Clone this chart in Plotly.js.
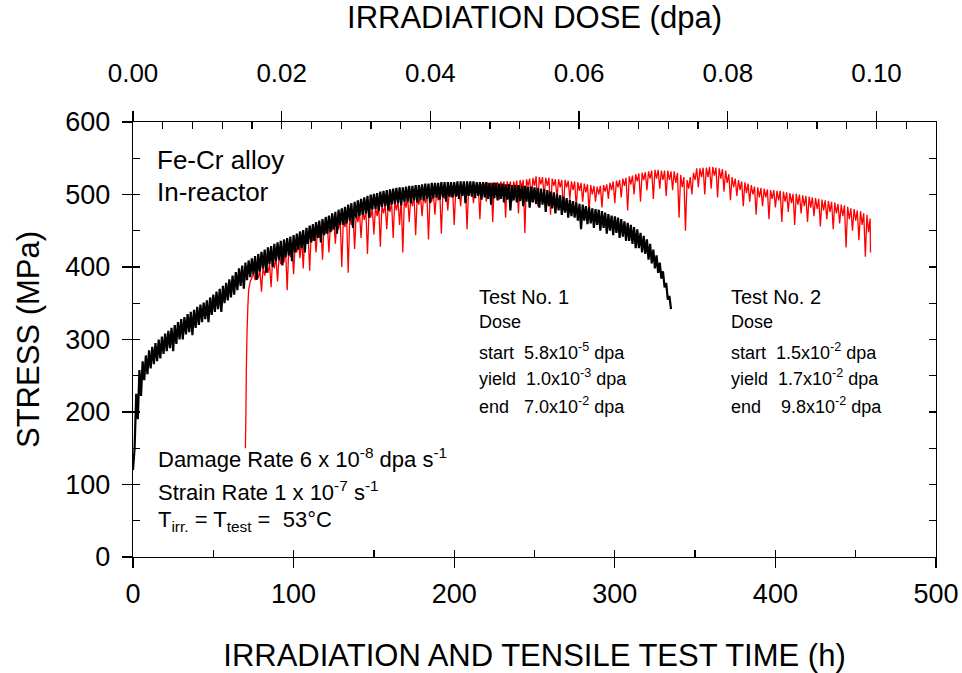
<!DOCTYPE html>
<html><head><meta charset="utf-8">
<script src="https://cdn.plot.ly/plotly-3.0.1.min.js"></script>
<style>html,body{margin:0;padding:0;background:#fff}#chart{width:962px;height:673px}</style>
</head><body><div id="chart"></div>
<script>
// Test No. 1 (black): noisy stress record, time (h) / stress (MPa)
const test1Time = [0,1,2,3,4,5,6,7,8,9,10,11,12,13,14,15,16,17,18,19,20,21,22,23,24,25,26,27,28,29,30,31,32,33,34,35,36,37,38,39,40,41,42,43,44,45,46,47,48,49,50,51,52,53,54,55,56,57,58,59,60,61,62,63,64,65,66,67,68,69,70,71,72,73,74,75,76,77,78,79,80,81,82,83,84,85,86,87,88,89,90,91,92,93,94,95,96,97,98,99,100,101,102,103,104,105,106,107,108,109,110,111,112,113,114,115,116,117,118,119,120,121,122,123,124,125,126,127,128,129,130,131,132,133,134,135,136,137,138,139,140,141,142,143,144,145,146,147,148,149,150,151,152,153,154,155,156,157,158,159,160,161,162,163,164,165,166,167,168,169,170,171,172,173,174,175,176,177,178,179,180,181,182,183,184,185,186,187,188,189,190,191,192,193,194,195,196,197,198,199,200,201,202,203,204,205,206,207,208,209,210,211,212,213,214,215,216,217,218,219,220,221,222,223,224,225,226,227,228,229,230,231,232,233,234,235,236,237,238,239,240,241,242,243,244,245,246,247,248,249,250,251,252,253,254,255,256,257,258,259,260,261,262,263,264,265,266,267,268,269,270,271,272,273,274,275,276,277,278,279,280,281,282,283,284,285,286,287,288,289,290,291,292,293,294,295,296,297,298,299,300,301,302,303,304,305,306,307,308,309,310,311,312,313,314,315,316,317,318,319,320,321,322,323,324,325,326,327,328,329,330,331,332,333,334,335];
const test1Stress = [120,150,225,190,258,222,270,244,278,252,285,260,290,266,295,270,300,274,304,280,308,284,312,288,316,284,320,294,324,300,328,300,331,307,335,310,338,306,341,316,345,320,348,324,351,328,354,324,358,334,362,338,366,342,370,338,374,350,378,354,383,358,388,362,393,368,398,374,402,370,406,382,409,386,412,390,415,382,418,394,421,398,424,392,427,404,429,400,432,408,434,410,436,402,438,414,440,416,442,408,444,420,446,424,449,426,451,420,454,432,457,434,459,436,462,440,464,434,466,444,469,446,471,448,474,452,476,446,479,458,481,458,483,460,486,464,488,454,490,468,492,470,494,472,496,474,498,468,500,479,501,480,502,477,504,483,505,484,506,478,507,486,508,487,509,488,510,485,510,490,511,490,512,488,512,492,513,489,513,493,514,492,515,494,515,488,516,495,516,496,516,493,517,496,517,490,517,497,517,496,517,497,518,494,518,498,518,488,518,498,518,497,518,495,517,498,517,493,517,496,517,494,516,486,516,495,516,492,515,494,515,489,514,493,514,478,513,492,513,489,513,491,512,484,512,490,511,482,511,489,510,487,509,482,508,486,507,476,506,484,504,481,503,474,501,478,499,472,497,475,495,468,493,470,491,468,489,464,487,452,486,464,484,459,483,460,481,454,480,458,479,450,477,454,475,446,473,450,471,444,470,447,468,440,466,442,463,436,461,436,458,432,455,426,452,426,447,420,443,418,438,410,432,405,424,398,416,392,406,384,394,372,378,355,360,342];

// Test No. 2 (red)
const test2Time = [70,70.3,70.6,71,71.5,72,73,74,75,76,77,78,79,80,81,82,83,84,85,86,87,88,89,90,91,92,93,94,95,96,97,98,99,100,101,102,103,104,105,106,107,108,109,110,111,112,113,114,115,116,117,118,119,120,121,122,123,124,125,126,127,128,129,130,131,132,133,134,135,136,137,138,139,140,141,142,143,144,145,146,147,148,149,150,151,152,153,154,155,156,157,158,159,160,161,162,163,164,165,166,167,168,169,170,171,172,173,174,175,176,177,178,179,180,181,182,183,184,185,186,187,188,189,190,191,192,193,194,195,196,197,198,199,200,201,202,203,204,205,206,207,208,209,210,211,212,213,214,215,216,217,218,219,220,221,222,223,224,225,226,227,228,229,230,231,232,233,234,235,236,237,238,239,240,241,242,243,244,245,246,247,248,249,250,251,252,253,254,255,256,257,258,259,260,261,262,263,264,265,266,267,268,269,270,271,272,273,274,275,276,277,278,279,280,281,282,283,284,285,286,287,288,289,290,291,292,293,294,295,296,297,298,299,300,301,302,303,304,305,306,307,308,309,310,311,312,313,314,315,316,317,318,319,320,321,322,323,324,325,326,327,328,329,330,331,332,333,334,335,336,337,338,339,340,341,342,343,344,345,346,347,348,349,350,351,352,353,354,355,356,357,358,359,360,361,362,363,364,365,366,367,368,369,370,371,372,373,374,375,376,377,378,379,380,381,382,383,384,385,386,387,388,389,390,391,392,393,394,395,396,397,398,399,400,401,402,403,404,405,406,407,408,409,410,411,412,413,414,415,416,417,418,419,420,421,422,423,424,425,426,427,428,429,430,431,432,433,434,435,436,437,438,439,440,441,442,443,444,445,446,447,448,449,450,451,452,453,454,455,456,457,458,459,459.2];
const test2Stress = [150,200,262,310,345,368,380,385,392,382,394,384,397,366,400,388,402,392,404,372,414,398,414,380,417,404,419,406,425,368,426,414,430,390,432,420,436,412,440,398,444,432,447,395,448,436,450,420,455,440,456,410,459,446,460,420,462,450,463,432,464,452,467,400,468,455,470,392,471,458,472,425,474,462,476,440,477,465,478,418,479,468,481,445,483,470,484,428,485,474,486,452,488,476,490,440,491,478,492,458,494,420,495,482,497,462,497,484,498,444,498,486,499,470,500,488,500,438,501,490,502,472,503,492,504,446,504,494,505,478,506,496,507,458,508,498,508,484,509,500,510,452,511,502,512,488,513,504,513,466,514,506,515,490,516,506,516,462,517,508,517,492,518,506,518,468,518,508,518,490,518,508,519,474,520,510,520,447,521,512,522,490,523,512,525,484,524,514,524,496,523,512,523,472,522,512,521,494,521,510,520,478,520,510,519,494,518,506,518,482,517,505,516,490,515,503,514,476,513,500,512,490,511,500,512,482,513,504,514,494,516,506,518,488,519,510,520,496,522,512,523,478,525,514,526,500,528,518,529,490,530,520,531,506,532,522,533,494,534,522,534,508,533,520,533,498,533,520,532,506,532,516,530,468,527,510,524,450,520,508,524,500,530,520,536,510,536,524,537,500,537,524,538,508,538,526,537,496,536,522,535,504,533,516,528,492,524,510,522,498,520,506,518,484,517,502,515,490,513,500,511,472,510,496,509,484,508,496,507,466,506,494,506,482,505,492,505,462,504,490,503,476,502,488,501,458,501,486,500,474,499,484,498,462,497,482,496,470,495,480,494,456,493,478,492,466,491,476,490,452,489,474,487,460,486,470,485,427,483,466,481,450,480,464,478,437,477,458,474,414,472,448,467,420];

// Axis tick values
const timeTicks = [0,100,200,300,400,500];
const doseTicks = [0.00,0.02,0.04,0.06,0.08,0.10];
const stressTicks = [0,100,200,300,400,500,600];

const nb = '\u00a0';
const axBase = {showgrid:false, zeroline:false, linecolor:'#000', linewidth:1.3, tickcolor:'#000', tickwidth:1.3};

const traces = [
  {name:'Test No. 2', x: test2Time, y: test2Stress, type:'scatter', mode:'lines', line:{color:'#ff0000', width:1.3, simplify:false}, hoverinfo:'skip', showlegend:false},
  {name:'Test No. 1', x: test1Time, y: test1Stress, type:'scatter', mode:'lines', line:{color:'#000000', width:2.2, simplify:false}, hoverinfo:'skip', showlegend:false},
  {x: [], y: [], xaxis:'x2', yaxis:'y', showlegend:false},
  {x: [], y: [], xaxis:'x3', yaxis:'y', showlegend:false},
  {x: [], y: [], xaxis:'x4', yaxis:'y', showlegend:false},
  {x: [], y: [], xaxis:'x', yaxis:'y2', showlegend:false},
  {x: [], y: [], xaxis:'x', yaxis:'y3', showlegend:false}
];

const annFont = {family:'Liberation Sans, Arial, sans-serif', color:'#000'};
function ann(text, x, y, size){
  return {text:text, x:x, y:y, xref:'x', yref:'y', xanchor:'left', yanchor:'middle', showarrow:false, font:Object.assign({size:size}, annFont)};
}

const layout = {
  width:962, height:673,
  paper_bgcolor:'#fff', plot_bgcolor:'#fff',
  font:{family:'Liberation Sans, Arial, sans-serif', color:'#000'},
  margin:{l:133, r:26, t:122, b:116},
  showlegend:false,
  xaxis: Object.assign({}, axBase, {range:[0,500], tickvals:timeTicks, ticks:'outside', ticklen:10, showline:true,
    tickfont:{size:27}, ticklabelstandoff:2,
    title:{text:'IRRADIATION AND TENSILE TEST TIME (h)', font:{size:31}, standoff:36}}),
  xaxis2: Object.assign({}, axBase, {overlaying:'x', anchor:'y', side:'bottom', range:[0,500], dtick:50, tick0:0, ticks:'inside', ticklen:7, showticklabels:false, showline:false}),
  xaxis3: Object.assign({}, axBase, {overlaying:'x', anchor:'y', side:'top', range:[0,0.108], tickvals:doseTicks, tickformat:'.2f', ticks:'outside', ticklen:10, showline:true,
    tickfont:{size:26}, ticklabelstandoff:18,
    title:{text:'IRRADIATION DOSE (dpa)', font:{size:31}, standoff:22}}),
  xaxis4: Object.assign({}, axBase, {overlaying:'x', anchor:'y', side:'top', range:[0,0.108], dtick:0.004, tick0:0, ticks:'inside', ticklen:7, showticklabels:false, showline:false}),
  yaxis: Object.assign({}, axBase, {range:[0,600], tickvals:stressTicks, ticks:'outside', ticklen:10, showline:true,
    tickfont:{size:27}, ticklabelstandoff:6,
    title:{text:'STRESS (MPa)', font:{size:31}, standoff:16}}),
  yaxis2: Object.assign({}, axBase, {overlaying:'y', anchor:'x', side:'left', range:[0,600], dtick:50, tick0:0, ticks:'inside', ticklen:7, showticklabels:false, showline:false}),
  yaxis3: Object.assign({}, axBase, {overlaying:'y', anchor:'x', side:'right', range:[0,600], dtick:50, tick0:0, ticks:'inside', ticklen:7, showticklabels:false, showline:true}),
  annotations: [
    ann('Fe-Cr alloy', 13.7, 548, 26),
    ann('In-reactor', 13.7, 503, 26),
    ann('Test No. 1', 214.5, 359, 20),
    ann('Dose', 214.5, 324, 18),
    ann('start'+nb+nb+'5.8x10<sup>-5</sup> dpa', 214.5, 284, 18),
    ann('yield'+nb+nb+'1.0x10<sup>-3</sup> dpa', 214.5, 247, 18),
    ann('end'+nb+nb+nb+'7.0x10<sup>-2</sup> dpa', 214.5, 209, 18),
    ann('Test No. 2', 371, 359, 20),
    ann('Dose', 371, 324, 18),
    ann('start'+nb+nb+'1.5x10<sup>-2</sup> dpa', 371, 284, 18),
    ann('yield'+nb+nb+'1.7x10<sup>-2</sup> dpa', 371, 247, 18),
    ann('end'+nb+nb+nb+nb+'9.8x10<sup>-2</sup> dpa', 371, 209, 18),
    ann('Damage Rate 6 x 10<sup>-8</sup> dpa s<sup>-1</sup>', 14.5, 137, 22),
    ann('Strain Rate 1 x 10<sup>-7</sup> s<sup>-1</sup>', 14.5, 91, 22),
    ann('T<sub>irr.</sub> = T<sub>test</sub> ='+nb+nb+'53°C', 14.5, 50, 22)
  ]
};

Plotly.newPlot('chart', traces, layout, {displayModeBar:false, staticPlot:true});
</script></body></html>
